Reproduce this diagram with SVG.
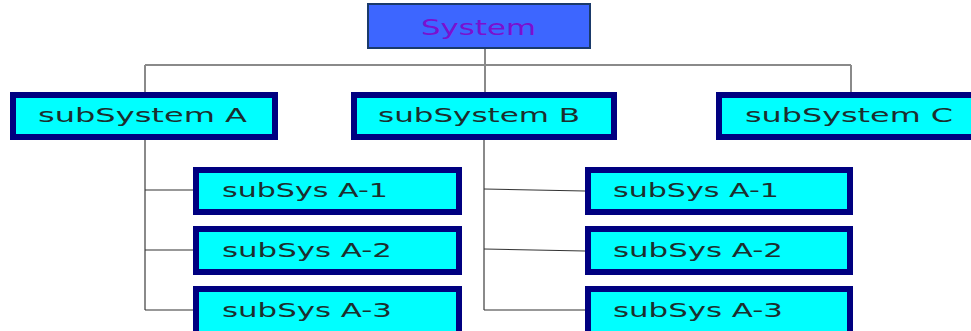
<svg xmlns="http://www.w3.org/2000/svg" width="971" height="331" viewBox="0 0 971 331">
<style>
.box{fill:#00FFFF;stroke:#000080;stroke-width:6}
.lbl{font-family:"DejaVu Sans",sans-serif;font-size:19px;fill:#1c2e2e}
.v{stroke:#8a8a8a;stroke-width:2;fill:none}
.h{stroke:#333;stroke-width:1.2;fill:none}
</style>
<rect width="971" height="331" fill="#fff"/>
<g id="connectors">
<path class="v" d="M145 65H851M485 49V93M145 65V93M851 65V93"/>
<path class="v" d="M145 139V310M484 139V310"/>
<path class="h" d="M145 190H193M145 250H193M145 310H193M484 189L585 191M484 249L585 251M484 310H585"/>
</g>
<g id="system">
<rect x="368" y="4" width="222" height="44" fill="#3D66FF" stroke="#1A3A6A" stroke-width="2"/>
<text x="421" y="35" textLength="115" lengthAdjust="spacingAndGlyphs" style="font-family:'DejaVu Sans',sans-serif;font-size:21px;fill:#7A10D0">System</text>
</g>
<g id="subA"><rect class="box" x="13" y="95" width="262" height="42"/><text class="lbl" x="38" y="122" textLength="209" lengthAdjust="spacingAndGlyphs">subSystem A</text></g>
<g id="subB"><rect class="box" x="354" y="95" width="260" height="42"/><text class="lbl" x="378" y="122" textLength="202" lengthAdjust="spacingAndGlyphs">subSystem B</text></g>
<g id="subC"><rect class="box" x="719" y="95" width="262" height="42"/><text class="lbl" x="745" y="122" textLength="208" lengthAdjust="spacingAndGlyphs">subSystem C</text></g>
<g id="subA1"><rect class="box" x="196" y="170" width="263" height="42"/><text class="lbl" x="222" y="197" textLength="166" lengthAdjust="spacingAndGlyphs">subSys A-1</text></g>
<g id="subA2"><rect class="box" x="196" y="229" width="263" height="43"/><text class="lbl" x="222" y="257" textLength="170" lengthAdjust="spacingAndGlyphs">subSys A-2</text></g>
<g id="subA3"><rect class="box" x="196" y="289" width="263" height="50"/><text class="lbl" x="222" y="317" textLength="170" lengthAdjust="spacingAndGlyphs">subSys A-3</text></g>
<g id="subB1"><rect class="box" x="588" y="170" width="262" height="42"/><text class="lbl" x="613" y="197" textLength="166" lengthAdjust="spacingAndGlyphs">subSys A-1</text></g>
<g id="subB2"><rect class="box" x="588" y="229" width="262" height="43"/><text class="lbl" x="613" y="257" textLength="170" lengthAdjust="spacingAndGlyphs">subSys A-2</text></g>
<g id="subB3"><rect class="box" x="588" y="289" width="262" height="50"/><text class="lbl" x="613" y="317" textLength="170" lengthAdjust="spacingAndGlyphs">subSys A-3</text></g>
</svg>
